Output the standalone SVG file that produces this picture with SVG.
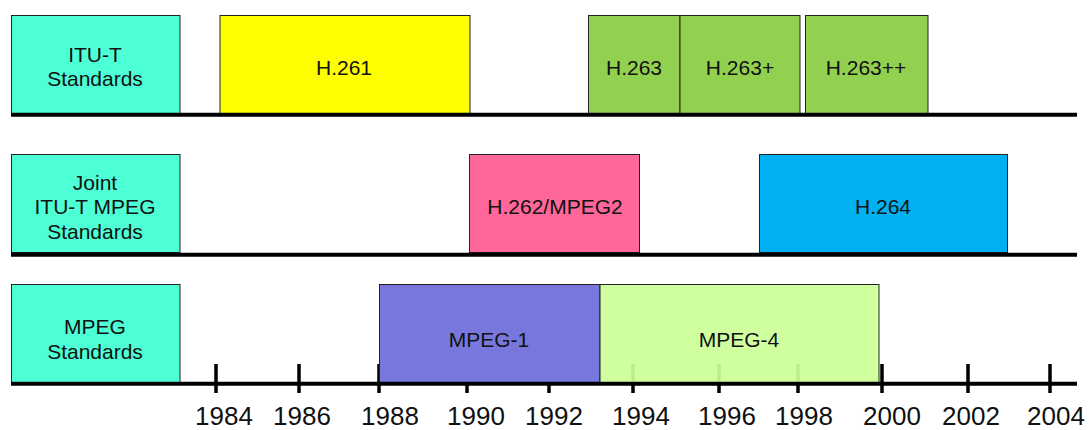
<svg xmlns="http://www.w3.org/2000/svg" width="1091" height="430" viewBox="0 0 1091 430">
<style>
.box{stroke:#222;stroke-width:1}
.lbl{font-family:"Liberation Sans",Arial,sans-serif;font-size:21px;fill:#111;text-anchor:middle}
.yr{font-family:"Liberation Sans",Arial,sans-serif;font-size:26px;fill:#111;text-anchor:middle}
.axis{stroke:#000;stroke-width:4;fill:none}
.tick{stroke:#000;stroke-width:3.5;fill:none}
.cat{fill:#4CFFD4}
</style>
<rect width="1091" height="430" fill="#fff"/>
<g id="ticks">
<path class="tick" d="M216,364V393M299,364V393M379,364V393M467,364V393M549,364V393M633,364V393M719,364V393M798,364V393M882,364V393M968,364V393M1050,364V393"/>
</g>
<g id="itu-t-standards"><rect class="box cat" x="11.5" y="15.5" width="168.5" height="98"/><text class="lbl" x="95" y="61.5">ITU-T</text><text class="lbl" x="95" y="86">Standards</text></g>
<g id="h261"><rect class="box" fill="#FFFF00" x="220" y="15.5" width="250" height="98"/><text class="lbl" x="344" y="75">H.261</text></g>
<g id="h263"><rect class="box" fill="#92D050" x="588.5" y="15.5" width="91.5" height="98"/><text class="lbl" x="634" y="75">H.263</text></g>
<g id="h263plus"><rect class="box" fill="#92D050" x="680" y="15.5" width="120" height="98"/><text class="lbl" x="740" y="75">H.263+</text></g>
<g id="h263plusplus"><rect class="box" fill="#92D050" x="805.5" y="15.5" width="122.5" height="98"/><text class="lbl" x="866" y="75">H.263++</text></g>
<g id="joint-standards"><rect class="box cat" x="11.5" y="154.5" width="168.5" height="98"/><text class="lbl" x="95" y="189.5">Joint</text><text class="lbl" x="95" y="214">ITU-T MPEG</text><text class="lbl" x="95" y="238.5">Standards</text></g>
<g id="h262"><rect class="box" fill="#FF6699" x="469.5" y="154.5" width="170" height="98"/><text class="lbl" x="555" y="213.5">H.262/MPEG2</text></g>
<g id="h264"><rect class="box" fill="#00B0F0" x="759.5" y="154.5" width="248" height="98"/><text class="lbl" x="883" y="213.5">H.264</text></g>
<g id="mpeg-standards"><rect class="box cat" x="11.5" y="284.5" width="168.5" height="98"/><text class="lbl" x="95" y="334">MPEG</text><text class="lbl" x="95" y="358.5">Standards</text></g>
<g id="mpeg1"><rect class="box" fill="#7878DC" x="379.5" y="284.5" width="220.5" height="98"/><text class="lbl" x="489" y="347">MPEG-1</text></g>
<g id="mpeg4"><rect class="box" fill="#CCFF99" fill-opacity="0.93" x="600" y="284.5" width="279" height="98"/><text class="lbl" x="739" y="347">MPEG-4</text></g>
<g id="connectors">
<path class="axis" d="M11,114.7H1077M11,254.7H1077M11,383.7H1077"/>
</g>
<g id="years">
<text class="yr" x="224" y="425">1984</text>
<text class="yr" x="302" y="425">1986</text>
<text class="yr" x="390" y="425">1988</text>
<text class="yr" x="476" y="425">1990</text>
<text class="yr" x="554" y="425">1992</text>
<text class="yr" x="641" y="425">1994</text>
<text class="yr" x="727" y="425">1996</text>
<text class="yr" x="804" y="425">1998</text>
<text class="yr" x="892" y="425">2000</text>
<text class="yr" x="971" y="425">2002</text>
<text class="yr" x="1056" y="425">2004</text>
</g>
</svg>
